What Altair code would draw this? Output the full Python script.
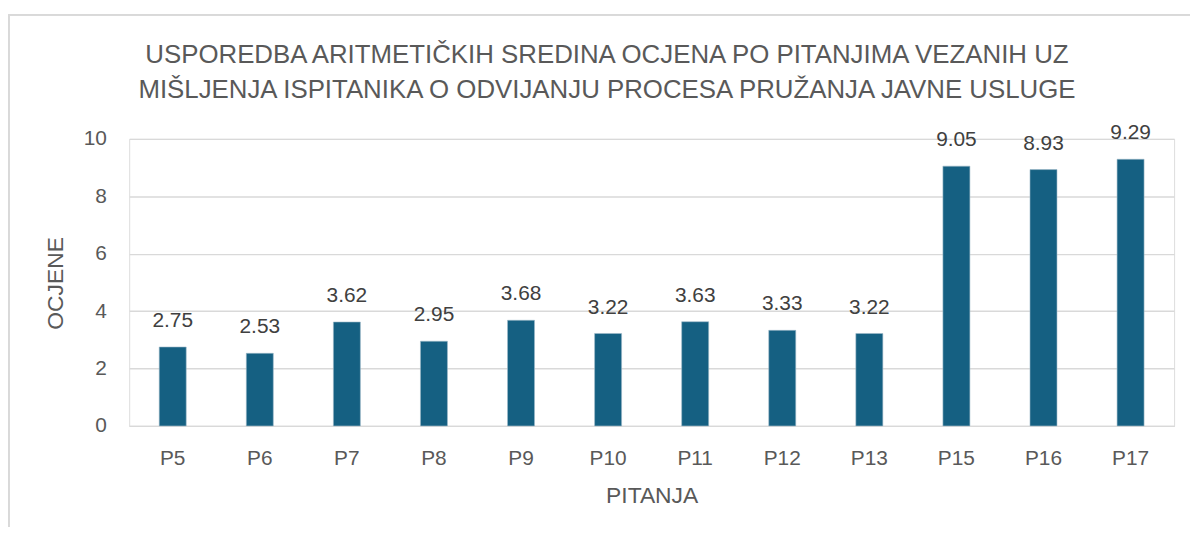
import altair as alt
import pandas as pd

categories = ["P5", "P6", "P7", "P8", "P9", "P10", "P11", "P12", "P13", "P15", "P16", "P17"]
values = [2.75, 2.53, 3.62, 2.95, 3.68, 3.22, 3.63, 3.33, 3.22, 9.05, 8.93, 9.29]
y_ticks = [0, 2, 4, 6, 8, 10]
title_lines = [
    "USPOREDBA ARITMETIČKIH SREDINA OCJENA PO PITANJIMA VEZANIH UZ",
    "MIŠLJENJA ISPITANIKA O ODVIJANJU PROCESA PRUŽANJA JAVNE USLUGE",
]

df = pd.DataFrame({"pitanje": categories, "ocjena": values})

FONT = "Liberation Sans"
GRAY = "#595959"
GRID = "#d9d9d9"
BAR = "#156082"

x_enc = alt.X(
    "pitanje:N",
    sort=categories,
    scale=alt.Scale(paddingInner=0.69, paddingOuter=0.345),
    axis=alt.Axis(
        title="PITANJA",
        labelAngle=0,
        labelFontSize=21,
        labelColor=GRAY,
        labelPadding=22,
        ticks=False,
        domainColor=GRID,
        domainWidth=1.4,
        titleFontSize=23,
        titleFontWeight="normal",
        titleColor=GRAY,
        titleY=70,
        titleBaseline="middle",
    ),
)
y_enc = alt.Y(
    "ocjena:Q",
    scale=alt.Scale(domain=[0, 10]),
    axis=alt.Axis(
        title="OCJENE",
        values=y_ticks,
        labelFontSize=21,
        labelColor=GRAY,
        labelPadding=23,
        ticks=False,
        domain=False,
        gridColor=GRID,
        gridWidth=1.4,
        titleFontSize=23,
        titleFontWeight="normal",
        titleColor=GRAY,
        titleX=-74,
        titleY=145,
        titleBaseline="middle",
        titleAlign="center",
    ),
)

bars = alt.Chart(df).mark_bar(color=BAR, stroke="#9fb9c9", strokeWidth=0.6).encode(x=x_enc, y=y_enc)
labels = alt.Chart(df).mark_text(
    baseline="middle", dy=-26, fontSize=21, color="#404040", font=FONT
).encode(x=alt.X("pitanje:N", sort=categories), y="ocjena:Q", text=alt.Text("ocjena:Q", format=".2f"))

frame_top = alt.Chart(df).mark_rule(color=GRID, strokeWidth=1.5, clip=False).encode(
    x=alt.value(-121.5), x2=alt.value(1100), y=alt.value(-125)
)
frame_left = alt.Chart(df).mark_rule(color=GRID, strokeWidth=1.5, clip=False).encode(
    x=alt.value(-121.5), y=alt.value(-125), y2=alt.value(400)
)

chart = (
    alt.layer(bars, labels, frame_top, frame_left)
    .properties(
        width=1052,
        height=289,
        title=alt.TitleParams(
            text=title_lines,
            fontSize=26,
            font=FONT,
            fontWeight="normal",
            color=GRAY,
            anchor="middle",
            dx=-45,
            dy=90,
            offset=0,
            lineHeight=36,
        ),
        autosize=alt.AutoSizeParams(type="none"),
        padding={"left": 122, "top": 130, "right": 16, "bottom": 100},
    )
    .configure_view(stroke=None)
    .configure(font=FONT)
)

chart.save("out.html", embed_options={"renderer": "svg", "actions": False})
